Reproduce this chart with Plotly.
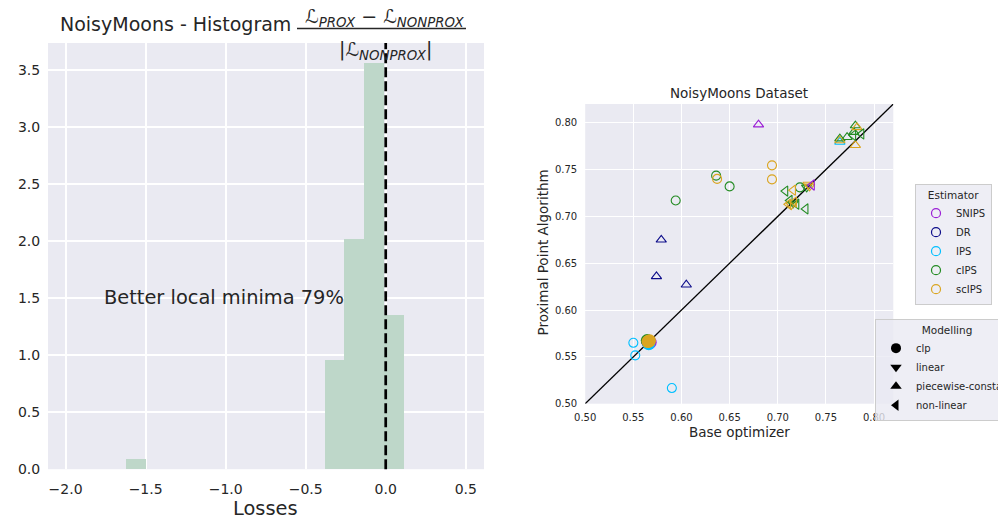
import numpy as np
import plotly.graph_objects as go

# ---------------- Left panel: histogram data ----------------
loss_min, loss_max = -1.623, 0.1144
n_bins = 14
density = [0.087, 0, 0, 0, 0, 0, 0, 0, 0, 0, 0.955, 2.018, 3.557, 1.348]
hist_xticks = [-2.0, -1.5, -1.0, -0.5, 0.0, 0.5]
hist_yticks = [0.0, 0.5, 1.0, 1.5, 2.0, 2.5, 3.0, 3.5]
better_pct = 79

# ---------------- Right panel: scatter data ----------------
estimators = ["SNIPS", "DR", "IPS", "cIPS", "scIPS"]
est_colors = ["#9b1fd6", "#0c0c8a", "#00bfff", "#228b22", "#daa520"]
modellings = ["clp", "linear", "piecewise-constant", "non-linear"]
mod_symbols = ["circle", "triangle-down", "triangle-up", "triangle-left"]

pt_est = [
    "IPS", "IPS", "IPS",
    "cIPS", "cIPS", "cIPS", "cIPS",
    "scIPS", "scIPS", "scIPS",
    "SNIPS", "DR", "DR", "DR",
    "IPS", "cIPS", "scIPS", "cIPS", "cIPS", "cIPS", "scIPS", "scIPS",
    "cIPS", "cIPS",
    "cIPS", "cIPS", "cIPS", "cIPS",
    "scIPS", "scIPS", "scIPS", "SNIPS",
    "scIPS", "scIPS", "cIPS", "scIPS", "cIPS",
]
pt_mod = [
    "clp", "clp", "clp",
    "clp", "clp", "clp", "clp",
    "clp", "clp", "clp",
    "piecewise-constant", "piecewise-constant", "piecewise-constant", "piecewise-constant",
    "piecewise-constant", "piecewise-constant", "piecewise-constant", "piecewise-constant",
    "piecewise-constant", "piecewise-constant", "piecewise-constant", "piecewise-constant",
    "non-linear", "non-linear",
    "non-linear", "non-linear", "non-linear", "non-linear",
    "non-linear", "non-linear", "non-linear", "non-linear",
    "linear", "linear", "linear", "linear", "linear",
]
pt_base = [
    0.550, 0.552, 0.590,
    0.594, 0.636, 0.650, 0.723,
    0.637, 0.694, 0.694,
    0.680, 0.579, 0.574, 0.605,
    0.7645, 0.7645, 0.7645, 0.772, 0.779, 0.7806, 0.7823, 0.7806,
    0.7785, 0.787,
    0.708, 0.7125, 0.7195, 0.729,
    0.716, 0.711, 0.717, 0.7356,
    0.7315, 0.733, 0.730, 0.714, 0.716,
]
pt_prox = [
    0.565, 0.5516, 0.5167,
    0.717, 0.7435, 0.732, 0.731,
    0.740, 0.7545, 0.7395,
    0.798, 0.675, 0.636, 0.627,
    0.7795, 0.783, 0.781, 0.7845, 0.790, 0.797, 0.795, 0.776,
    0.7865, 0.788,
    0.727, 0.717, 0.713, 0.708,
    0.728, 0.713, 0.7153, 0.7335,
    0.734, 0.732, 0.731, 0.712, 0.714,
]

# overlapping filled clp results near the origin of the diagonal
blob_est = ["cIPS", "SNIPS", "IPS", "DR", "scIPS", "scIPS"]
blob_base = [0.5645, 0.5675, 0.566, 0.565, 0.5652, 0.5668]
blob_prox = [0.5675, 0.5655, 0.5640, 0.566, 0.5663, 0.5672]

scatter_range = [0.5, 0.82]

TXT = "#262626"
BG = "#EAEAF2"
FONT = "DejaVu Sans"

fig = go.Figure()

# ---- histogram bars ----
edges = np.linspace(loss_min, loss_max, n_bins + 1)
centers = (edges[:-1] + edges[1:]) / 2
bw = edges[1] - edges[0]
fig.add_trace(go.Bar(
    x=centers, y=density, width=bw,
    marker=dict(color="rgb(190,215,201)", line=dict(width=0)),
    xaxis="x", yaxis="y", showlegend=False, hoverinfo="skip",
))

# ---- scatter ----
fig.add_trace(go.Scatter(
    x=scatter_range, y=scatter_range, mode="lines",
    line=dict(color="black", width=1.3), xaxis="x2", yaxis="y2",
    showlegend=False, hoverinfo="skip",
))

for mod, sym in zip(modellings, mod_symbols):
    for est, col in zip(estimators, est_colors):
        xs = [b for b, e, m in zip(pt_base, pt_est, pt_mod) if e == est and m == mod]
        ys = [p for p, e, m in zip(pt_prox, pt_est, pt_mod) if e == est and m == mod]
        if not xs:
            continue
        fig.add_trace(go.Scatter(
            x=xs, y=ys, mode="markers",
            marker=dict(symbol=sym + "-open", size=9, color=col, line=dict(width=1.1, color=col)),
            xaxis="x2", yaxis="y2", showlegend=False,
        ))

for est, col in zip(estimators, est_colors):
    xs = [b for b, e in zip(blob_base, blob_est) if e == est]
    ys = [p for p, e in zip(blob_prox, blob_est) if e == est]
    fig.add_trace(go.Scatter(
        x=xs, y=ys, mode="markers",
        marker=dict(symbol="circle", size=13, color=col, line=dict(width=0)),
        xaxis="x2", yaxis="y2", showlegend=False,
    ))

# ---- legend entries ----
for est, col in zip(estimators, est_colors):
    fig.add_trace(go.Scatter(
        x=[None], y=[None], mode="markers", name=est, legend="legend",
        marker=dict(symbol="circle-open", size=9, color=col, line=dict(width=1.2, color=col)),
        xaxis="x2", yaxis="y2",
    ))
for mod, sym in zip(modellings, mod_symbols):
    fig.add_trace(go.Scatter(
        x=[None], y=[None], mode="markers", name=mod, legend="legend2",
        marker=dict(symbol=sym, size=10, color="black"),
        xaxis="x2", yaxis="y2",
    ))

# page body adds an 8px offset; lay out in screen pixels and compensate
OFF = 8
W, H = 1006 - OFF, 523 - OFF
px = lambda v: (v - OFF) / W
py = lambda v: 1 - (v - OFF) / H

axis_common = dict(
    showgrid=True, gridcolor="white", zeroline=False, showline=False,
    ticks="outside", tickcolor="rgba(0,0,0,0)", automargin=False,
)

fig.update_layout(
    width=W, height=H,
    margin=dict(l=0, r=0, t=0, b=0, autoexpand=False),
    paper_bgcolor="white", plot_bgcolor=BG,
    font=dict(family=FONT, color=TXT),
    bargap=0,
    xaxis=dict(axis_common, domain=[px(48), px(484)], range=[-2.11, 0.614],
               tickvals=hist_xticks, tickformat=".1f", ticklen=7, gridwidth=1.5,
               tickfont=dict(size=14, color=TXT), anchor="y"),
    yaxis=dict(axis_common, domain=[py(469.2), py(43)], range=[0, 3.735],
               tickvals=hist_yticks, tickformat=".1f", ticklen=4, gridwidth=1.5,
               tickfont=dict(size=14, color=TXT), anchor="x"),
    xaxis2=dict(axis_common, domain=[px(585.2), px(893.3)], range=scatter_range,
                tick0=0.5, dtick=0.05, tickformat=".2f", ticklen=4, gridwidth=1,
                tickfont=dict(size=10, color=TXT), anchor="y2"),
    yaxis2=dict(axis_common, domain=[py(403.7), py(104)], range=scatter_range,
                tick0=0.5, dtick=0.05, tickformat=".2f", ticklen=5, gridwidth=1,
                tickfont=dict(size=10, color=TXT), anchor="x2"),
    legend=dict(
        title=dict(text="Estimator", side="top center", font=dict(size=10.5, color=TXT)),
        x=px(915), y=py(184), xanchor="left", yanchor="top",
        bgcolor="rgba(234,234,242,0.8)", bordercolor="#cccccc", borderwidth=1,
        font=dict(size=10, color=TXT), itemwidth=30, tracegroupgap=0,
    ),
    legend2=dict(
        title=dict(text="Modelling", side="top center", font=dict(size=10.5, color=TXT)),
        x=px(875), y=py(319), xanchor="left", yanchor="top",
        bgcolor="rgba(234,234,242,0.8)", bordercolor="#cccccc", borderwidth=1,
        font=dict(size=10, color=TXT), itemwidth=30, tracegroupgap=0,
    ),
    shapes=[
        dict(type="line", xref="x", yref="y domain", x0=0, x1=0, y0=0, y1=1,
             line=dict(color="black", width=2.7, dash="10px,4px")),
        dict(type="line", xref="paper", yref="paper", x0=px(297), x1=px(466),
             y0=py(28.5), y1=py(28.5), line=dict(color=TXT, width=1.3)),
    ],
    annotations=[
        dict(text="NoisyMoons - Histogram", xref="paper", yref="paper",
             x=px(58), y=py(24), xanchor="left", yanchor="middle", showarrow=False,
             font=dict(size=19, color=TXT)),
        dict(text="ℒ<sub><i>PROX</i></sub> − ℒ<sub><i>NONPROX</i></sub>", xref="paper", yref="paper",
             x=px(384.5), y=py(17), xanchor="center", yanchor="middle", showarrow=False,
             font=dict(size=19, color=TXT)),
        dict(text="|ℒ<sub><i>NONPROX</i></sub>|", xref="paper", yref="paper",
             x=px(385.5), y=py(50), xanchor="center", yanchor="middle", showarrow=False,
             font=dict(size=19, color=TXT)),
        dict(text=f"Better local minima {better_pct}%", xref="x", yref="y",
             x=-1.77, y=1.505, xanchor="left", yanchor="middle", showarrow=False,
             font=dict(size=19.4, color=TXT)),
        dict(text="Losses", xref="paper", yref="paper",
             x=px(265.5), y=py(508), xanchor="center", yanchor="middle", showarrow=False,
             font=dict(size=19.4, color=TXT)),
        dict(text="NoisyMoons Dataset", xref="paper", yref="paper",
             x=px(739), y=py(93), xanchor="center", yanchor="middle", showarrow=False,
             font=dict(size=13.5, color=TXT)),
        dict(text="Base optimizer", xref="paper", yref="paper",
             x=px(739), y=py(432), xanchor="center", yanchor="middle", showarrow=False,
             font=dict(size=13.5, color=TXT)),
        dict(text="Proximal Point Algorithm", xref="paper", yref="paper",
             x=px(543), y=py(252.5), xanchor="center", yanchor="middle", showarrow=False,
             textangle=-90, font=dict(size=13.5, color=TXT)),
    ],
)

fig.write_html("out.html")
